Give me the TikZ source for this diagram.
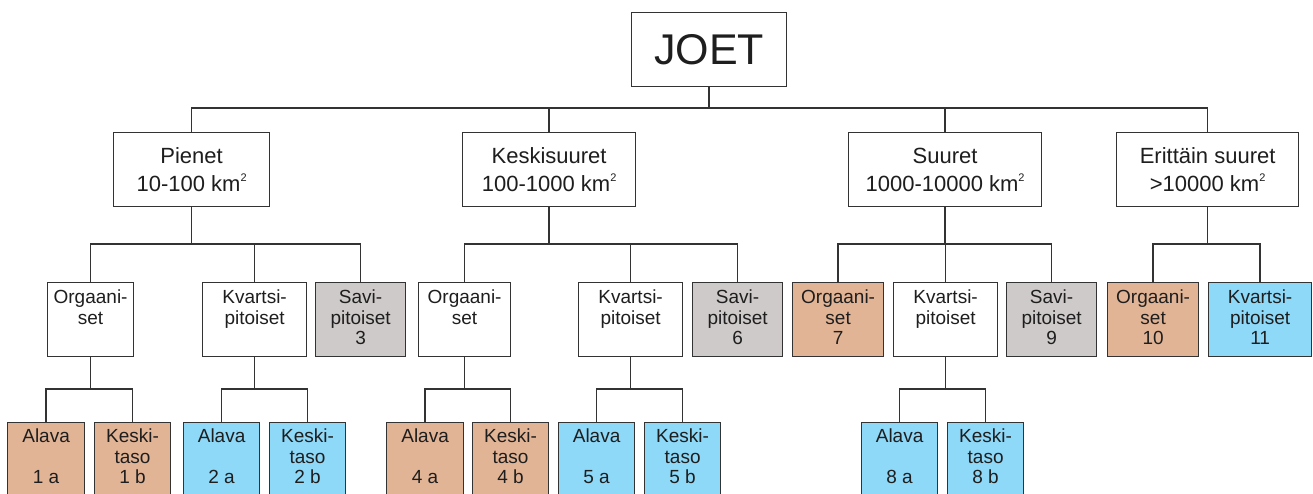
\documentclass[tikz,border=0pt]{standalone}
\usepackage{fontspec}
\setmainfont{Liberation Sans}
\definecolor{orangec}{HTML}{E2B496}
\definecolor{bluec}{HTML}{8ED8F8}
\definecolor{grayc}{HTML}{CECAC9}
\definecolor{linec}{HTML}{333333}
\definecolor{textc}{HTML}{1E1E1E}
\newcommand{\lvtwo}[2]{\parbox[t][74pt][t]{#1pt}{\centering\fontsize{19}{20.5}\selectfont\rule{0pt}{21pt}#2}}
\newcommand{\lvthree}[2]{\parbox[t][80pt][t]{#1pt}{\centering\fontsize{19}{20.5}\selectfont\rule{0pt}{20pt}#2}}
\newcommand{\sqkm}{km\raisebox{10pt}{\fontsize{11}{11}\selectfont 2}}
\begin{document}
\begin{tikzpicture}[x=1pt,y=-1pt,
  box/.style={draw=linec, line width=1.2pt, inner sep=0pt, anchor=north west, text=textc, fill=white},
  topbox/.style={box, minimum height=74pt, align=center, font=\fontsize{22}{28}\selectfont},
  orb/.style={box, fill=orangec},
  blb/.style={box, fill=bluec},
  grb/.style={box, fill=grayc},
  conn/.style={draw=linec, line width=1.3pt}]
\useasboundingbox (0,0) rectangle (1313,494);
\clip (0,0) rectangle (1313,494);
% level 0
\node[box, minimum width=155pt, minimum height=74pt, font=\fontsize{43}{43}\selectfont] (joet) at (631,12) {JOET};
% level 1
\node[topbox, minimum width=156pt] (p1) at (113,132) {Pienet\\10-100 \sqkm};
\node[topbox, minimum width=173pt] (p2) at (462,132) {Keskisuuret\\100-1000 \sqkm};
\node[topbox, minimum width=193pt] (p3) at (848,132) {Suuret\\1000-10000 \sqkm};
\node[topbox, minimum width=182pt] (p4) at (1116,132) {Erittäin suuret\\>10000 \sqkm};
% level 2
\node[box] (o1) at (47,282) {\lvtwo{86}{Orgaani-\\set}};
\node[box] (k2) at (202,282) {\lvtwo{104}{Kvartsi-\\pitoiset}};
\node[grb] (s3) at (315,282) {\lvtwo{90}{Savi-\\pitoiset\\3}};
\node[box] (o4) at (418,282) {\lvtwo{92}{Orgaani-\\set}};
\node[box] (k5) at (578,282) {\lvtwo{104}{Kvartsi-\\pitoiset}};
\node[grb] (s6) at (692,282) {\lvtwo{90}{Savi-\\pitoiset\\6}};
\node[orb] (o7) at (792,282) {\lvtwo{91}{Orgaani-\\set\\7}};
\node[box] (k8) at (893,282) {\lvtwo{104}{Kvartsi-\\pitoiset}};
\node[grb] (s9) at (1006,282) {\lvtwo{90}{Savi-\\pitoiset\\9}};
\node[orb] (o10) at (1107,282) {\lvtwo{91}{Orgaani-\\set\\10}};
\node[blb] (k11) at (1208,282) {\lvtwo{103}{Kvartsi-\\pitoiset\\11}};
% level 3
\node[orb] (a1) at (7,422) {\lvthree{77}{Alava\\\mbox{}\\1 a}};
\node[orb] (b1) at (94,422) {\lvthree{76}{Keski-\\taso\\1 b}};
\node[blb] (a2) at (183,422) {\lvthree{76}{Alava\\\mbox{}\\2 a}};
\node[blb] (b2) at (269,422) {\lvthree{76}{Keski-\\taso\\2 b}};
\node[orb] (a4) at (386,422) {\lvthree{77}{Alava\\\mbox{}\\4 a}};
\node[orb] (b4) at (472,422) {\lvthree{76}{Keski-\\taso\\4 b}};
\node[blb] (a5) at (558,422) {\lvthree{76}{Alava\\\mbox{}\\5 a}};
\node[blb] (b5) at (644,422) {\lvthree{76}{Keski-\\taso\\5 b}};
\node[blb] (a8) at (861,422) {\lvthree{76}{Alava\\\mbox{}\\8 a}};
\node[blb] (b8) at (947,422) {\lvthree{76}{Keski-\\taso\\8 b}};
% connectors level 0-1
\draw[conn] (p1.north) -- ++(0,-24) -| (p4.north);
\draw[conn] (p2.north) -- ++(0,-24);
\draw[conn] (p3.north) -- ++(0,-24);
\draw[conn, line width=2pt] (joet.south) -- ++(0,22);
% level 1-2
\draw[conn] (o1.north) -- ++(0,-38) -| (s3.north);
\draw[conn] (k2.north) -- ++(0,-38);
\draw[conn] (p1.south) -- ++(0,38);
\draw[conn] (o4.north) -- ++(0,-38) -| (s6.north);
\draw[conn] (k5.north) -- ++(0,-38);
\draw[conn] (p2.south) -- ++(0,38);
\draw[conn] (o7.north) -- ++(0,-38) -| (s9.north);
\draw[conn] (k8.north) -- ++(0,-38);
\draw[conn] (p3.south) -- ++(0,38);
\draw[conn] (o10.north) -- ++(0,-38) -| (k11.north);
\draw[conn] (p4.south) -- ++(0,38);
% level 2-3
\draw[conn] (a1.north) -- ++(0,-33) -| (b1.north);
\draw[conn] (o1.south) -- ++(0,33);
\draw[conn] (a2.north) -- ++(0,-33) -| (b2.north);
\draw[conn] (k2.south) -- ++(0,33);
\draw[conn] (a4.north) -- ++(0,-33) -| (b4.north);
\draw[conn] (o4.south) -- ++(0,33);
\draw[conn] (a5.north) -- ++(0,-33) -| (b5.north);
\draw[conn] (k5.south) -- ++(0,33);
\draw[conn] (a8.north) -- ++(0,-33) -| (b8.north);
\draw[conn] (k8.south) -- ++(0,33);
\end{tikzpicture}
\end{document}
